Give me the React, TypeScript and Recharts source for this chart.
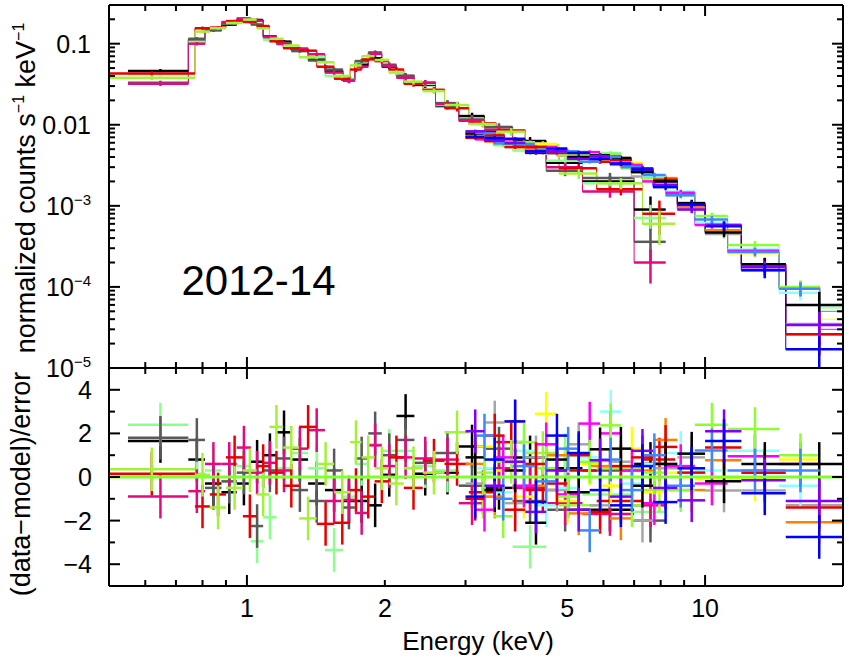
import React from "react";
import { ComposedChart, Scatter, Line, XAxis, YAxis, ErrorBar, ReferenceLine, ReferenceDot } from "recharts";

const FONT = '"Liberation Sans", Arial, Helvetica, sans-serif';

// energy bin edges (keV)
const lowBinsA = [0.55, 0.745, 0.81, 0.88, 0.95, 1.02, 1.085, 1.16, 1.25, 1.36, 1.48, 1.62, 1.72, 1.84, 1.97, 2.12, 2.32, 2.58, 2.9, 3.3, 3.8, 4.5, 5.4, 7.0, 8.2];
const lowBinsB = [0.47, 0.77, 0.83, 0.9, 0.98, 1.05, 1.12, 1.2, 1.3, 1.42, 1.55, 1.68, 1.78, 1.9, 2.04, 2.2, 2.42, 2.7, 3.05, 3.5, 4.05, 4.8, 5.8, 7.3, 8.6];
const hiBinsA = [3.0, 3.3, 3.65, 4.05, 4.5, 5.0, 5.6, 6.2, 6.9, 7.7, 8.7, 10.0, 12.0, 15.0, 20.5];
const hiBinsB = [3.15, 3.45, 3.8, 4.25, 4.75, 5.3, 5.9, 6.55, 7.3, 8.2, 9.5, 11.2, 14.5, 17.8, 24.0];

// fractional 1-sigma errors per bin (upper panel)
const lowErr = [0.06, 0.05, 0.04, 0.035, 0.035, 0.035, 0.04, 0.045, 0.045, 0.05, 0.06, 0.07, 0.06, 0.06, 0.07, 0.08, 0.08, 0.09, 0.1, 0.11, 0.12, 0.14, 0.16, 0.45];
const hiErr = [0.05, 0.05, 0.05, 0.05, 0.05, 0.05, 0.06, 0.06, 0.07, 0.08, 0.1, 0.12, 0.2, 0.45];

// soft-band spectra: normalized counts s^-1 keV^-1 and (data-model)/error
const softBlackFlux = [0.046, 0.11, 0.148, 0.172, 0.193, 0.196, 0.123, 0.106, 0.086, 0.065, 0.046, 0.036, 0.055, 0.066, 0.052, 0.04, 0.031, 0.017, 0.0128, 0.0083, 0.0063, 0.0034, 0.002, 0.0009];
const softBlackResid = [1.65, 0.8, -0.3, -0.7, -0.3, 0.7, 1.0, 2.05, 0.8, -0.3, -0.6, -1.1, -1.1, -1.3, 0.1, 2.8, 0.15, 0.2, 1.4, -0.5, 0.9, 0.4, -1.5, 0.6];
const softLimeFlux = [0.042, 0.106, 0.152, 0.178, 0.198, 0.175, 0.111, 0.1, 0.088, 0.068, 0.04, 0.036, 0.06, 0.075, 0.054, 0.039, 0.032, 0.0175, 0.0118, 0.0089, 0.0048, 0.0036, 0.0019, 0.00071];
const softLimeResid = [2.4, 0.15, 0.3, -0.2, 0.5, -2.95, -1.85, 0.4, 1.1, 0.4, -3.35, -0.9, 0.6, 1.5, 1.2, 1.2, 0.5, 0.3, -0.4, 0.8, -3.2, 1.0, -0.8, -1.6];
const softGrayFlux = [0.033, 0.115, 0.146, 0.178, 0.197, 0.172, 0.12, 0.102, 0.081, 0.062, 0.048, 0.035, 0.061, 0.078, 0.055, 0.04, 0.033, 0.0185, 0.0116, 0.0094, 0.0055, 0.0027, 0.0022, 0.00036];
const softGrayResid = [1.8, 1.7, -0.5, -0.2, 0.2, -2.25, 0.3, 0.85, -0.6, -1.1, 0.3, -1.4, 0.85, 2.0, 1.0, 1.7, 0.65, 1.1, -0.4, 1.3, -1.1, -1.5, 0.3, -2.0];
const softRoseFlux = [0.032, 0.1, 0.155, 0.185, 0.205, 0.192, 0.122, 0.099, 0.087, 0.074, 0.044, 0.035, 0.052, 0.075, 0.053, 0.038, 0.033, 0.018, 0.0112, 0.0087, 0.0058, 0.003, 0.0015, 0.0002];
const softRoseResid = [-0.9, -0.65, 0.6, 0.6, 1.35, 0.2, 0.65, 0.3, 1.3, 2.15, -1.1, -1.05, -1.65, 1.45, 0.5, 0.9, 0.85, 0.8, -1.2, 0.4, -0.5, -1.2, -1.7, -1.3];
const softRedFlux = [0.043, 0.155, 0.158, 0.19, 0.185, 0.165, 0.107, 0.088, 0.082, 0.052, 0.037, 0.048, 0.064, 0.061, 0.048, 0.032, 0.027, 0.016, 0.0104, 0.0085, 0.0049, 0.0029, 0.0016, 0.0008];
const softRedResid = [0.15, -1.35, -0.8, 0.9, -1.8, 0.5, 0.2, -0.4, 2.3, -2.15, -2.1, -0.6, -0.9, -0.2, 0.9, -0.5, 0.75, 0.6, -0.7, 1.6, -0.6, 0.3, -1.1, 0.8];
const softChartFlux = [0.038, 0.141, 0.155, 0.18, 0.198, 0.155, 0.115, 0.095, 0.068, 0.059, 0.04, 0.054, 0.07, 0.063, 0.044, 0.034, 0.026, 0.0175, 0.0102, 0.0082, 0.0056, 0.0025, 0.0019, 0.0006];
const softChartResid = [0.35, 0.1, -1.4, -0.5, 0.3, -0.8, 2.3, 1.35, -1.9, 0.6, -0.7, 1.6, 0.9, 0.4, -0.3, 0.4, 0.2, 2.05, -0.9, 0.7, 1.1, -1.3, 0.4, -0.6];

// hard-band spectra
const hardBlueFlux = [0.0071, 0.0069, 0.0067, 0.0047, 0.0051, 0.0045, 0.0038, 0.0033, 0.0028, 0.0017, 0.00104, 0.00056, 0.00016, 0.000017];
const hardBlueResid = [-0.9, 0.8, 2.55, -1.15, 1.9, 1.1, -0.6, -1.3, 0.5, -1.15, 0.4, 1.65, -0.75, -2.75];
const hardCyanFlux = [0.0072, 0.0061, 0.006, 0.0045, 0.0043, 0.0042, 0.0045, 0.003, 0.0023, 0.0015, 0.00062, 0.00029, 0.000085, 0.000058];
const hardCyanResid = [0.4, -0.7, 1.2, -1.3, -0.5, 0.9, 3.0, -0.3, 0.6, 1.1, 0.3, 1.2, -0.4, 1.5];
const hardVioletFlux = [0.0083, 0.0064, 0.006, 0.0046, 0.0047, 0.0038, 0.0041, 0.0034, 0.0029, 0.0018, 0.0009, 0.00058, 0.000175, 0.000034];
const hardVioletResid = [2.1, -0.4, 0.7, -1.6, 0.3, -1.5, 0.77, -0.9, 1.2, -0.5, -1.07, 2.1, -0.15, -1.1];
const hardMagentaFlux = [0.0066, 0.0066, 0.0055, 0.0053, 0.0042, 0.0046, 0.0042, 0.0032, 0.002, 0.00145, 0.00058, 0.00028, 0.000098, 0.00003];
const hardMagentaResid = [-1.5, 0.9, -0.4, 1.5, -0.8, 2.45, 2.0, 0.3, -1.2, 0.5, -0.3, 0.95, 0.6, -0.65];
const hardOrangeFlux = [0.0077, 0.0062, 0.0067, 0.005, 0.0049, 0.0038, 0.004, 0.0032, 0.0028, 0.0022, 0.00095, 0.0005, 0.00019, 0.000026];
const hardOrangeResid = [0.6, -0.9, 2.55, -0.4, 1.0, -1.67, 0.5, -1.9, 0.3, 1.7, -0.6, 0.77, 0.3, -2.07];
const hardYellowFlux = [0.0077, 0.0064, 0.0053, 0.0058, 0.0041, 0.0041, 0.0037, 0.0034, 0.0021, 0.0014, 0.0006, 0.00026, 0.0001, 0.00004];
const hardYellowResid = [1.4, 0.3, -0.9, 2.9, -1.1, 0.6, -0.4, 1.3, -0.7, 0.2, -0.1, -0.1, 0.8, 0.2];
const hardSilverFlux = [0.0073, 0.0076, 0.0054, 0.0054, 0.0044, 0.0046, 0.0036, 0.0038, 0.0023, 0.0019, 0.00108, 0.00045, 0.00016, 0.000035];
const hardSilverResid = [-0.3, 2.5, -1.2, 0.9, -0.6, 1.5, -1.3, 0.7, -2.0, 0.4, 0.9, -0.62, -0.62, -1.3];
const hardAzureFlux = [0.0079, 0.0059, 0.0058, 0.0049, 0.0047, 0.0035, 0.004, 0.003, 0.0024, 0.00135, 0.00068, 0.00027, 0.000095, 0.00005];
const hardAzureResid = [1.9, -1.0, 0.5, -0.2, 1.3, -2.45, 0.8, -0.6, 1.0, -0.4, 1.22, 0.3, 0.3, 0.9];
const hardRedFlux = [0.0069, 0.0074, 0.0053, 0.0053, 0.0045, 0.0045, 0.0035, 0.0037, 0.0029, 0.0021, 0.00102, 0.00058, 0.00019, 0.000026];
const hardRedResid = [-1.0, 1.9, -1.5, 0.6, -0.3, 1.0, -1.6, 0.5, 0.9, 1.38, 0.2, 1.35, 0.2, -1.4];
const hardChartFlux = [0.0072, 0.0056, 0.0061, 0.005, 0.0042, 0.0042, 0.0044, 0.0029, 0.0022, 0.00135, 0.00075, 0.00033, 0.0001, 0.000055];
const hardChartResid = [0.2, -1.8, 1.6, 0.4, -0.9, 0.7, 2.37, -1.3, 0.2, -0.6, 2.4, 2.2, 1.0, 1.35];
const hardBlackFlux = [0.0078, 0.0064, 0.0059, 0.0045, 0.0048, 0.004, 0.0042, 0.0039, 0.0026, 0.002, 0.00108, 0.00047, 0.00019, 0.00006];
const hardBlackResid = [0.9, -0.6, 0.3, -2.1, 0.8, -0.7, 1.27, 1.3, -0.4, 0.6, 1.07, -0.2, 0.6, 0.6];

// axis ranges and ticks
const energyRange = [0.5, 20];
const fluxRange = [1e-5, 0.3];
const residRange = [-5, 5];
const energyTicks = [0.6, 0.7, 0.8, 0.9, 1, 2, 3, 4, 5, 6, 7, 8, 9, 10];
const energyLabels = [1, 2, 5, 10];
const energyMajor = [1, 10];
const fluxDecades = [1e-5, 1e-4, 1e-3, 0.01, 0.1];
const fluxSteps = [1, 2, 3, 4, 5, 6, 7, 8, 9];
const fluxText: Record<number, string> = { [-1]: "0.1", [-2]: "0.01" };
const residTicks = [-4, -3, -2, -1, 0, 1, 2, 3, 4];

const fluxTicks = fluxDecades.flatMap((d) => fluxSteps.map((m) => m * d)).filter((v) => v <= fluxRange[1]);

const sets = [
  { color: "#000000", bins: lowBinsA, err: lowErr, flux: softBlackFlux, resid: softBlackResid },
  { color: "#8cff8c", bins: lowBinsA, err: lowErr, flux: softLimeFlux, resid: softLimeResid },
  { color: "#595959", bins: lowBinsA, err: lowErr, flux: softGrayFlux, resid: softGrayResid },
  { color: "#e5097f", bins: lowBinsA, err: lowErr, flux: softRoseFlux, resid: softRoseResid },
  { color: "#e60000", bins: lowBinsB, err: lowErr, flux: softRedFlux, resid: softRedResid },
  { color: "#a5f03a", bins: lowBinsB, err: lowErr, flux: softChartFlux, resid: softChartResid },
  { color: "#a6a6a6", bins: hiBinsA, err: hiErr, flux: hardSilverFlux, resid: hardSilverResid },
  { color: "#ffff00", bins: hiBinsB, err: hiErr, flux: hardYellowFlux, resid: hardYellowResid },
  { color: "#ff8000", bins: hiBinsA, err: hiErr, flux: hardOrangeFlux, resid: hardOrangeResid },
  { color: "#8cffff", bins: hiBinsB, err: hiErr, flux: hardCyanFlux, resid: hardCyanResid },
  { color: "#ff00ff", bins: hiBinsB, err: hiErr, flux: hardMagentaFlux, resid: hardMagentaResid },
  { color: "#8cff33", bins: hiBinsB, err: hiErr, flux: hardChartFlux, resid: hardChartResid },
  { color: "#e60000", bins: hiBinsA, err: hiErr, flux: hardRedFlux, resid: hardRedResid },
  { color: "#000000", bins: hiBinsA, err: hiErr, flux: hardBlackFlux, resid: hardBlackResid },
  { color: "#3f87ff", bins: hiBinsB, err: hiErr, flux: hardAzureFlux, resid: hardAzureResid },
  { color: "#8000ff", bins: hiBinsA, err: hiErr, flux: hardVioletFlux, resid: hardVioletResid },
  { color: "#0000ff", bins: hiBinsA, err: hiErr, flux: hardBlueFlux, resid: hardBlueResid },
];

// keep everything inside the frame (the clip path is not applied here)
const clampE = (e: number) => Math.min(Math.max(e, energyRange[0]), energyRange[1]);

function toPoints(bins: number[], vals: number[], err?: number[]) {
  return vals
    .map((v, i) => {
      const x = (bins[i] + bins[i + 1]) / 2;
      const lo = clampE(bins[i]);
      const hi = clampE(bins[i + 1]);
      const e = err ? v * err[i] : 1;
      const down = err ? Math.min(e, v - fluxRange[0]) : e;
      return { x, y: v, ex: [x - lo, hi - x], ey: [down, e] };
    })
    .filter((p) => p.x <= energyRange[1]);
}

function toSteps(bins: number[], vals: number[]) {
  const pts = vals.map((v, i) => ({ x: clampE(bins[i]), y: v }));
  pts.push({ x: clampE(bins[vals.length]), y: vals[vals.length - 1] });
  return pts;
}

const noMarker = () => <g />;
const isDecade = (v: number) => Math.abs(Math.log10(v) - Math.round(Math.log10(v))) < 1e-6;

function EnergyTick(props: any) {
  const { x, y, payload, side, labelled } = props;
  const v = payload.value;
  const len = energyMajor.includes(v) ? 11 : 6;
  const dir = side === "top" ? 1 : -1;
  return (
    <g>
      <line x1={x} x2={x} y1={y} y2={y + dir * len} stroke="#000" strokeWidth={2} />
      {labelled && energyLabels.includes(v) && (
        <text x={x} y={y + 31} textAnchor="middle" fontSize={25} fontFamily={FONT} fill="#000">
          {v}
        </text>
      )}
    </g>
  );
}

function FluxTick(props: any) {
  const { x, y, payload, side } = props;
  const v = payload.value;
  const major = isDecade(v);
  const dir = side === "left" ? 1 : -1;
  const exp = Math.round(Math.log10(v));
  return (
    <g>
      <line x1={x} x2={x + dir * (major ? 11 : 6)} y1={y} y2={y} stroke="#000" strokeWidth={2} />
      {side === "left" && major && (
        <text x={x - 18} y={y + 9} textAnchor="end" fontSize={25} fontFamily={FONT} fill="#000">
          {fluxText[exp] ? (
            fluxText[exp]
          ) : (
            <>
              10<tspan fontSize={15} dy={-10}>{"\u2212" + -exp}</tspan>
            </>
          )}
        </text>
      )}
    </g>
  );
}

function ResidTick(props: any) {
  const { x, y, payload, side } = props;
  const v = payload.value;
  const major = v % 2 === 0;
  const dir = side === "left" ? 1 : -1;
  return (
    <g>
      <line x1={x} x2={x + dir * (major ? 11 : 6)} y1={y} y2={y} stroke="#000" strokeWidth={2} />
      {side === "left" && major && (
        <text x={x - 17} y={y + 9} textAnchor="end" fontSize={25} fontFamily={FONT} fill="#000">
          {v < 0 ? "\u2212" + -v : String(v)}
        </text>
      )}
    </g>
  );
}

const TopTitle = () => (
  <text x={35} y={188} transform="rotate(-90 35 188)" textAnchor="middle" fontSize={27} fontFamily={FONT} fill="#000">
    normalized counts s<tspan fontSize={16} dy={-11}>{"\u22121"}</tspan>
    <tspan dy={11}> keV</tspan>
    <tspan fontSize={16} dy={-11}>{"\u22121"}</tspan>
  </text>
);

const ResidTitle = () => (
  <text x={30} y={484} transform="rotate(-90 30 484)" textAnchor="middle" fontSize={27} fontFamily={FONT} fill="#000">
    (data{"\u2212"}model)/error
  </text>
);

const EnergyTitle = () => (
  <text x={478} y={650} textAnchor="middle" fontSize={26} fontFamily={FONT} fill="#000">
    Energy (keV)
  </text>
);

const axisLine = { stroke: "#000", strokeWidth: 2 };
// axes are 1px thick boxes; ticks are drawn inward by the tick renderers
const xCommon = {
  type: "number" as const,
  scale: "log" as const,
  dataKey: "x",
  domain: energyRange,
  allowDataOverflow: true,
  ticks: energyTicks,
  interval: 0 as const,
  height: 1,
  tickSize: 0,
  tickMargin: 0,
  tickLine: false,
  axisLine,
};
const yCommon = {
  type: "number" as const,
  allowDataOverflow: true,
  interval: 0 as const,
  width: 1,
  tickSize: 0,
  tickMargin: 0,
  tickLine: false,
  axisLine,
};

const BAR_W = 2.5;

export default function App() {
  const margin = { left: 108, right: 5 };
  return (
    <div style={{ position: "absolute", left: 0, top: 0, width: 849, height: 658, background: "#fff" }}>
      <div style={{ position: "absolute", left: 0, top: 0 }}>
        <ComposedChart width={849} height={658} margin={{ ...margin, top: 367, bottom: 71 }}>
          <XAxis xAxisId="b" orientation="bottom" {...xCommon} tick={(p: any) => <EnergyTick {...p} side="bottom" labelled />} label={<EnergyTitle />} />
          <XAxis xAxisId="t" orientation="top" {...xCommon} tick={(p: any) => <EnergyTick {...p} side="top" />} />
          <YAxis yAxisId="l" orientation="left" {...yCommon} domain={residRange} ticks={residTicks} tick={(p: any) => <ResidTick {...p} side="left" />} label={<ResidTitle />} />
          <YAxis yAxisId="r" orientation="right" {...yCommon} domain={residRange} ticks={residTicks} tick={(p: any) => <ResidTick {...p} side="right" />} />
          {sets.map((s, i) => (
            <Scatter key={"r" + i} data={toPoints(s.bins, s.resid)} dataKey="y" xAxisId="b" yAxisId="l" shape={noMarker} isAnimationActive={false}>
              <ErrorBar dataKey="ex" direction="x" width={0} stroke={s.color} strokeWidth={BAR_W} isAnimationActive={false} />
              <ErrorBar dataKey="ey" direction="y" width={0} stroke={s.color} strokeWidth={BAR_W} isAnimationActive={false} />
            </Scatter>
          ))}
          <ReferenceLine xAxisId="b" yAxisId="l" y={0} stroke="#80ff30" strokeWidth={3} />
        </ComposedChart>
      </div>
      <div style={{ position: "absolute", left: 0, top: 0 }}>
        <ComposedChart width={849} height={390} margin={{ ...margin, top: 4, bottom: 21 }}>
          <XAxis xAxisId="b" orientation="bottom" {...xCommon} tick={(p: any) => <EnergyTick {...p} side="bottom" />} />
          <XAxis xAxisId="t" orientation="top" {...xCommon} tick={(p: any) => <EnergyTick {...p} side="top" />} />
          <YAxis yAxisId="l" orientation="left" {...yCommon} scale="log" domain={fluxRange} ticks={fluxTicks} tick={(p: any) => <FluxTick {...p} side="left" />} label={<TopTitle />} />
          <YAxis yAxisId="r" orientation="right" {...yCommon} scale="log" domain={fluxRange} ticks={fluxTicks} tick={(p: any) => <FluxTick {...p} side="right" />} />
          {sets.map((s, i) => (
            <Line key={"m" + i} data={toSteps(s.bins, s.flux)} dataKey="y" type="stepAfter" xAxisId="b" yAxisId="l" stroke={s.color} strokeWidth={1} dot={false} activeDot={false} isAnimationActive={false} />
          ))}
          {sets.map((s, i) => (
            <Scatter key={"f" + i} data={toPoints(s.bins, s.flux, s.err)} dataKey="y" xAxisId="b" yAxisId="l" shape={noMarker} isAnimationActive={false}>
              <ErrorBar dataKey="ex" direction="x" width={0} stroke={s.color} strokeWidth={BAR_W} isAnimationActive={false} />
              <ErrorBar dataKey="ey" direction="y" width={0} stroke={s.color} strokeWidth={BAR_W} isAnimationActive={false} />
            </Scatter>
          ))}
          <ReferenceDot xAxisId="b" yAxisId="l" x={1.06} y={1.21e-4} r={0} fill="none" stroke="none" label={{ value: "2012-14", position: "center", fontSize: 42, fill: "#000", fontFamily: FONT }} />
        </ComposedChart>
      </div>
    </div>
  );
}
